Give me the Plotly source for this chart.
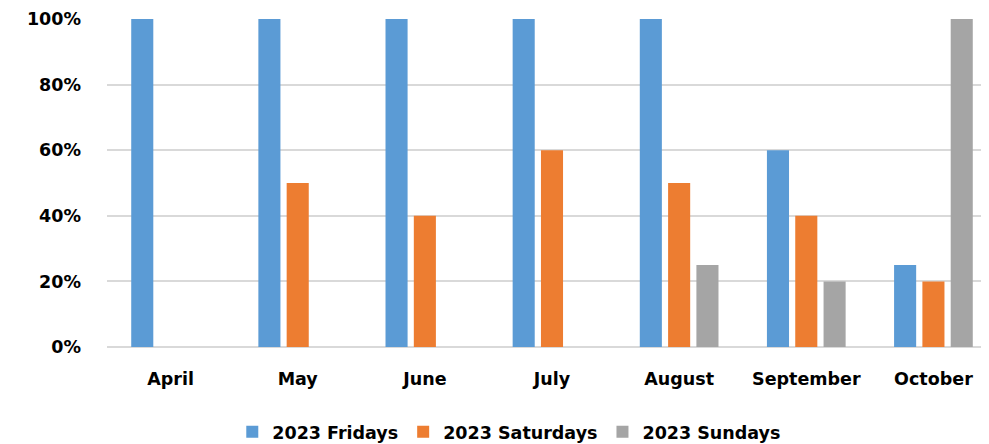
import plotly.graph_objects as go

months = ["April", "May", "June", "July", "August", "September", "October"]
fridays = [1.00, 1.00, 1.00, 1.00, 1.00, 0.60, 0.25]
saturdays = [0, 0.50, 0.40, 0.60, 0.50, 0.40, 0.20]
sundays = [0, 0, 0, 0, 0.25, 0.20, 1.00]
series_names = ["2023 Fridays", "2023 Saturdays", "2023 Sundays"]
colors = ["#5B9BD5", "#ED7D31", "#A5A5A5"]
y_ticks = [0, 0.2, 0.4, 0.6, 0.8, 1.0]

FONT = "DejaVu Sans"
FS = 17.5

fig = go.Figure()
for name, vals, col in zip(series_names, [fridays, saturdays, sundays], colors):
    fig.add_trace(go.Bar(x=months, y=vals, name=name, marker_color=col,
                         marker_line_width=0))

fig.update_layout(
    width=989, height=444,
    margin=dict(l=99, r=0, t=11, b=105, autoexpand=False),
    paper_bgcolor="white", plot_bgcolor="white",
    barmode="group", bargap=0.332, bargroupgap=0.22,
    font=dict(family=FONT, size=FS, color="black", weight="bold"),
    legend=dict(orientation="h", x=0.452, xanchor="center",
                y=-0.259, yanchor="middle",
                font=dict(family=FONT, size=FS, weight="bold"),
                itemclick=False, tracegroupgap=0),
    showlegend=True,
)
fig.update_xaxes(range=[-0.5, 6.5], showgrid=False, showline=False,
                 ticks="", tickfont=dict(family=FONT, size=FS, weight="bold"),
                 ticklabelstandoff=19, fixedrange=True, automargin=False)
fig.update_yaxes(range=[0, 1.0], tickvals=y_ticks, tickformat=".0%",
                 showgrid=True, gridcolor="#D9D9D9", gridwidth=1.5,
                 zeroline=True, zerolinecolor="#D9D9D9", zerolinewidth=1.5,
                 showline=False, ticks="",
                 tickfont=dict(family=FONT, size=FS, weight="bold"),
                 ticklabelstandoff=25, fixedrange=True, automargin=False)

fig.write_html("out.html")
